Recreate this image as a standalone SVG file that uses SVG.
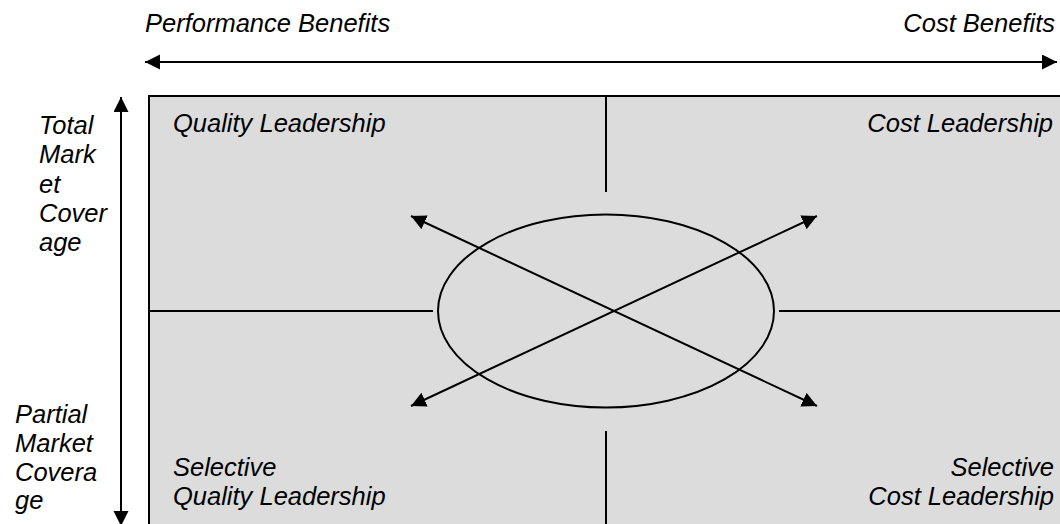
<svg xmlns="http://www.w3.org/2000/svg" width="1060" height="524" viewBox="0 0 1060 524">
<style>
.t{font-family:"Liberation Sans",Arial,sans-serif;font-style:italic;font-size:25.5px;fill:#000}
.ln{stroke:#000;stroke-width:2;fill:none}
</style>
<defs>
<marker id="ah" markerUnits="userSpaceOnUse" markerWidth="16" markerHeight="16" refX="15" refY="7.5" orient="auto-start-reverse" viewBox="0 0 16 16">
<path d="M0,0 L15,7.5 L0,15 z" fill="#000"/>
</marker>
</defs>
<rect width="1060" height="524" fill="#fff"/>
<g id="matrix">
<rect x="149" y="96" width="930" height="450" fill="#dcdcdc" stroke="#000" stroke-width="2"/>
</g>
<g id="dividers">
<line class="ln" x1="606" y1="96" x2="606" y2="192"/>
<line class="ln" x1="606" y1="431" x2="606" y2="530"/>
<line class="ln" x1="149" y1="311" x2="433" y2="311"/>
<line class="ln" x1="779" y1="311" x2="1065" y2="311"/>
</g>
<g id="center">
<ellipse cx="606" cy="311" rx="168" ry="96.5" class="ln"/>
</g>
<g id="connectors">
<line class="ln" x1="145" y1="62" x2="1057" y2="62" marker-start="url(#ah)" marker-end="url(#ah)"/>
<line class="ln" x1="121" y1="97" x2="121" y2="526" marker-start="url(#ah)" marker-end="url(#ah)"/>
<line class="ln" x1="411" y1="216" x2="817" y2="406" marker-start="url(#ah)" marker-end="url(#ah)"/>
<line class="ln" x1="411" y1="406" x2="817" y2="216" marker-start="url(#ah)" marker-end="url(#ah)"/>
</g>
<g id="axis-labels">
<text class="t" x="145" y="32">Performance Benefits</text>
<text class="t" x="1055" y="32" text-anchor="end">Cost Benefits</text>
<text class="t" x="39"><tspan x="39" y="134">Total</tspan><tspan x="39" y="163">Mark</tspan><tspan x="39" y="193">et</tspan><tspan x="39" y="222">Cover</tspan><tspan x="39" y="251">age</tspan></text>
<text class="t" x="15"><tspan x="15" y="423">Partial</tspan><tspan x="15" y="452">Market</tspan><tspan x="15" y="481">Covera</tspan><tspan x="15" y="509">ge</tspan></text>
</g>
<g id="quadrant-ql"><text class="t" x="173" y="132">Quality Leadership</text></g>
<g id="quadrant-cl"><text class="t" x="1053" y="132" text-anchor="end">Cost Leadership</text></g>
<g id="quadrant-sql"><text class="t"><tspan x="173" y="476">Selective</tspan><tspan x="173" y="505">Quality Leadership</tspan></text></g>
<g id="quadrant-scl"><text class="t" text-anchor="end"><tspan x="1054" y="476">Selective</tspan><tspan x="1054" y="505">Cost Leadership</tspan></text></g>
</svg>
